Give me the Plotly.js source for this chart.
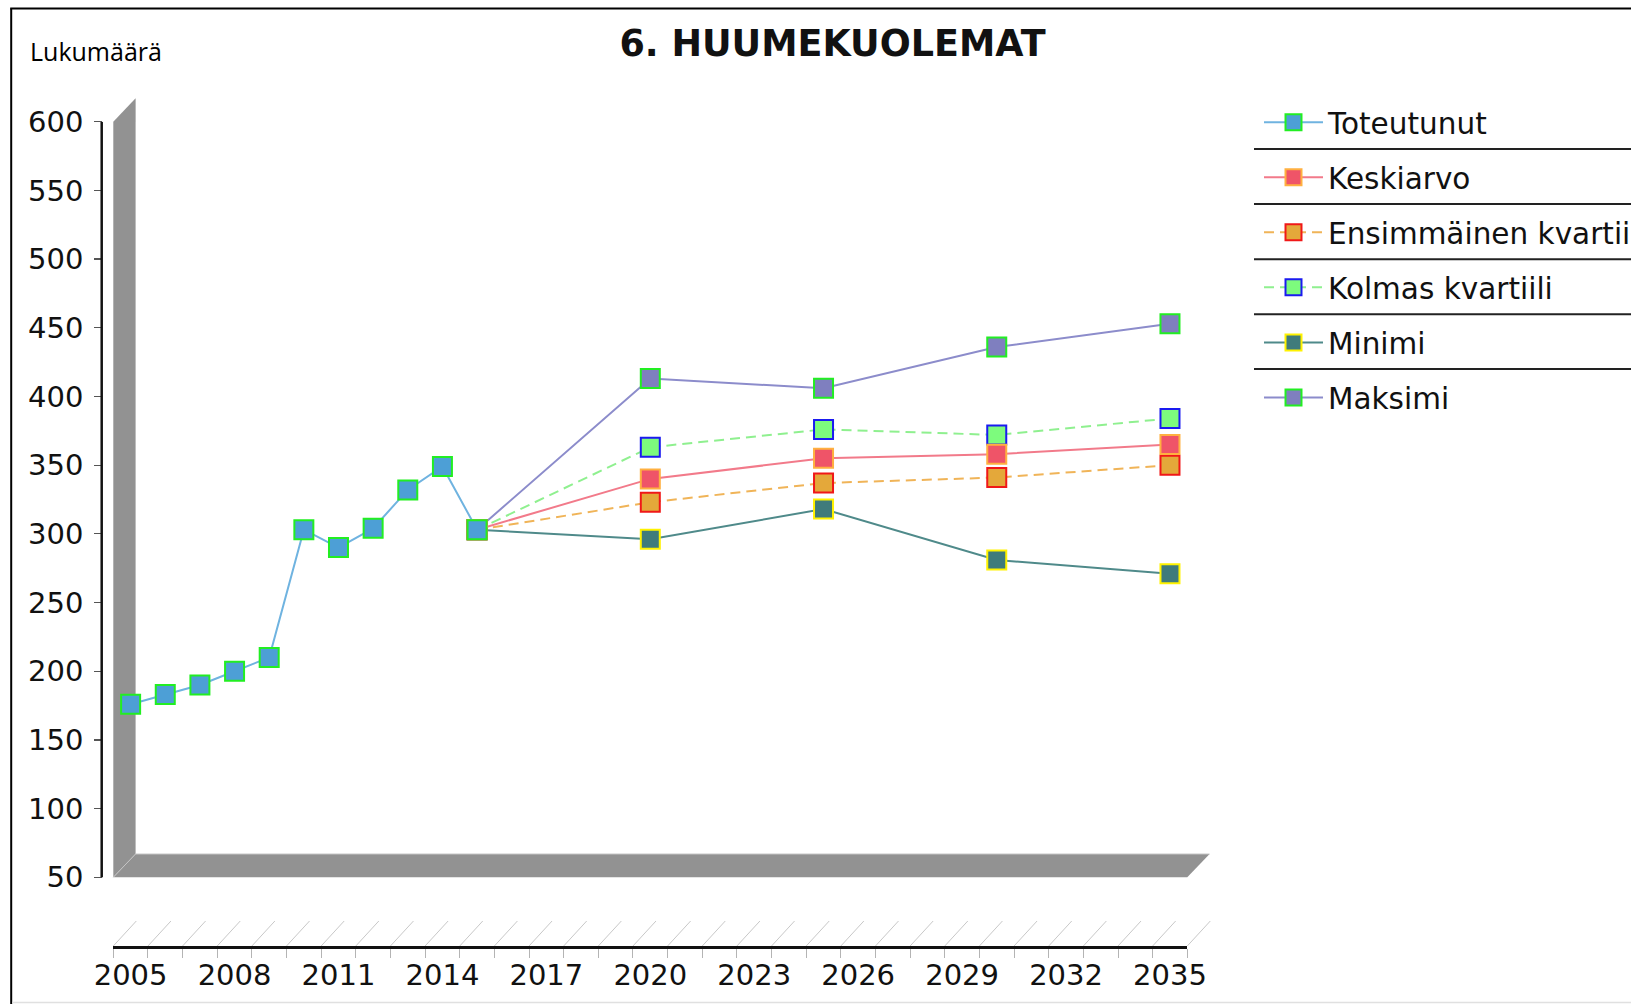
<!DOCTYPE html>
<html>
<head>
<meta charset="utf-8">
<script src="https://cdn.plot.ly/plotly-3.0.1.min.js"></script>
<style>
  html, body { margin: 0; padding: 0; background: #fff; }
  #chart { width: 1631px; height: 1004px; }
</style>
</head>
<body>
<div id="chart"></div>
<script>
// ---------- data ----------
const chartTitle = '6. HUUMEKUOLEMAT';
const yLabel = 'Lukumäärä';
const histYears = [2005, 2006, 2007, 2008, 2009, 2010, 2011, 2012, 2013, 2014, 2015];
const toteutunut = [176, 183, 190, 200, 210, 303, 290, 304, 332, 349, 303];
const projYears = [2015, 2020, 2025, 2030, 2035];
const keskiarvo = [303, 340, 355, 358, 365];
const ensimmainenKvartiili = [303, 323, 337, 341, 350];
const kolmasKvartiili = [303, 363, 376, 372, 384];
const minimi = [303, 296, 318, 281, 271];
const maksimi = [303, 413, 406, 436, 453];
const seriesNames = ['Toteutunut', 'Keskiarvo', 'Ensimmäinen kvartiili', 'Kolmas kvartiili', 'Minimi', 'Maksimi'];
const xTickVals = [2005, 2008, 2011, 2014, 2017, 2020, 2023, 2026, 2029, 2032, 2035];
const yTickVals = [50, 100, 150, 200, 250, 300, 350, 400, 450, 500, 550, 600];
const allYears = [];
for (let y = 2005; y <= 2035; y++) allYears.push(y);

// ---------- geometry (pixels of the 1631x1004 page) ----------
const W = 1631, H = 1004;
const px = v => v / W;
const py = v => 1 - v / H;
const plotL = 113.3, plotR = 1187.3, plotB = 946, plotT = 121.7; // y range 0..600
const xMin = 2004.5, xMax = 2035.5, yMin = 0, yMax = 600;
const xPx = yr => plotL + (yr - xMin) / (xMax - xMin) * (plotR - plotL);
const yPx = v => plotB - (v - yMin) / (yMax - yMin) * (plotB - plotT);
const dx3 = 22.3, dy3 = 23.4; // 3D depth offset

const font = 'DejaVu Sans, Verdana, sans-serif';

function trace(name, x, y, lineColor, fill, border, dash, rank) {
  return {
    type: 'scatter', mode: 'lines+markers', name: name, x: x, y: y,
    line: { color: lineColor, width: 2, dash: dash || 'solid' },
    marker: { symbol: 'square', size: 19, color: fill, line: { color: border, width: 2 } },
    legendgroup: name, legendrank: rank, cliponaxis: false
  };
}

const data = [
  trace(seriesNames[5], projYears, maksimi, '#8C8CCB', '#7F7FBF', '#22EE22', null, 6),
  trace(seriesNames[4], projYears, minimi, '#4F8A8A', '#3F7B7B', '#FFF200', null, 5),
  trace(seriesNames[3], projYears, kolmasKvartiili, '#8FF08F', '#7DFB7D', '#1A1AF0', '10px,6px', 4),
  trace(seriesNames[2], projYears, ensimmainenKvartiili, '#F0B458', '#E4A83A', '#F01818', '10px,6px', 3),
  trace(seriesNames[1], projYears, keskiarvo, '#F27A8A', '#EF5468', '#FFB040', null, 2),
  trace(seriesNames[0], histYears, toteutunut, '#6FB3E0', '#4D9FD6', '#22EE22', null, 1)
];

// ---------- decorations ----------
const shapes = [];
const gray = '#929292';
// back wall
shapes.push({ type: 'path', xref: 'paper', yref: 'paper', layer: 'below',
  path: `M${px(plotL)},${py(yPx(600))} L${px(plotL + dx3)},${py(yPx(600) - dy3)} L${px(plotL + dx3)},${py(yPx(50) - dy3)} L${px(plotL)},${py(yPx(50))} Z`,
  fillcolor: gray, line: { width: 0 } });
// floor
shapes.push({ type: 'path', xref: 'paper', yref: 'paper', layer: 'below',
  path: `M${px(plotL)},${py(yPx(50))} L${px(plotL + dx3)},${py(yPx(50) - dy3)} L${px(plotR + dx3)},${py(yPx(50) - dy3)} L${px(plotR)},${py(yPx(50))} Z`,
  fillcolor: gray, line: { width: 0 } });
// light edges of the 3D frame
shapes.push({ type: 'line', xref: 'paper', yref: 'paper', layer: 'below',
  x0: px(plotL), y0: py(yPx(50)), x1: px(plotL + dx3), y1: py(yPx(50) - dy3), line: { color: '#c4c4c4', width: 1 } });
shapes.push({ type: 'line', xref: 'paper', yref: 'paper', layer: 'below',
  x0: px(plotL + dx3), y0: py(yPx(50) - dy3), x1: px(plotR + dx3), y1: py(yPx(50) - dy3), line: { color: '#d0d0d0', width: 1 } });
// hatch lines above the category axis
for (let b = xMin; b <= xMax + 0.001; b += 1) {
  shapes.push({ type: 'line', xref: 'paper', yref: 'paper', layer: 'below',
    x0: px(xPx(b)), y0: py(plotB), x1: px(xPx(b) + 23), y1: py(plotB - 25),
    line: { color: '#c8c8c8', width: 1 } });
}
// y axis line (50..600)
shapes.push({ type: 'line', xref: 'paper', yref: 'y', x0: px(101.7), x1: px(101.7), y0: 50, y1: 600,
  line: { color: '#111', width: 2.5 } });
// legend separators
[149, 204, 259.3, 314.3, 369].forEach(yy => shapes.push({ type: 'line', xref: 'paper', yref: 'paper',
  x0: px(1254), x1: 1.01, y0: py(yy), y1: py(yy), line: { color: '#222', width: 2 } }));
// outer frame
shapes.push({ type: 'line', xref: 'paper', yref: 'paper', x0: px(11.2), x1: px(11.2), y0: py(8.5), y1: -0.01, line: { color: '#000', width: 2 } });
shapes.push({ type: 'line', xref: 'paper', yref: 'paper', x0: px(10.2), x1: 1.01, y0: py(8.5), y1: py(8.5), line: { color: '#000', width: 2 } });
shapes.push({ type: 'line', xref: 'paper', yref: 'paper', x0: px(12), x1: 1.01, y0: py(1002.5), y1: py(1002.5), line: { color: '#e0e0e0', width: 1.5 } });

const layout = {
  width: W, height: H,
  margin: { l: 0, r: 0, t: 0, b: 0, autoexpand: false },
  paper_bgcolor: '#fff', plot_bgcolor: 'rgba(0,0,0,0)',
  title: { text: chartTitle, x: px(832.5), xanchor: 'center', xref: 'paper', y: py(43.5), yanchor: 'middle', yref: 'container',
    font: { family: font, size: 36.5, weight: 'bold', color: '#111' } },
  showlegend: true,
  legend: { x: px(1259), xanchor: 'left', y: py(96.5), yanchor: 'top', bgcolor: 'rgba(0,0,0,0)',
    font: { family: font, size: 29.5, color: '#111' }, itemwidth: 59, tracegroupgap: 13.7, traceorder: 'grouped' },
  xaxis: {
    domain: [px(plotL), px(plotR)], range: [xMin, xMax], anchor: 'y',
    tickmode: 'array', tickvals: xTickVals, ticktext: xTickVals.map(String), ticks: '',
    minor: { tickmode: 'array', tickvals: allYears.map(y => y - 0.5).concat([xMax]), ticks: 'outside', ticklen: 9, tickwidth: 1, tickcolor: '#b4b4b4', showgrid: false },
    showline: true, linecolor: '#111', linewidth: 2.5, showgrid: false, zeroline: false,
    tickfont: { family: font, size: 29, color: '#111' }, ticklabelstandoff: 2
  },
  yaxis: {
    domain: [py(plotB), py(plotT)], range: [yMin, yMax], anchor: 'free', position: px(101.7),
    tickmode: 'array', tickvals: yTickVals, ticks: 'outside', ticklen: 7.5, tickwidth: 1.2, tickcolor: '#555',
    showline: false, showgrid: false, zeroline: false,
    tickfont: { family: font, size: 29, color: '#111' }, ticklabelstandoff: 5
  },
  annotations: [{ text: yLabel, xref: 'paper', yref: 'paper', x: px(27.5), y: py(51), xanchor: 'left', yanchor: 'middle',
    showarrow: false, font: { family: 'Open Sans, sans-serif', size: 25, color: '#000' } }],
  shapes: shapes
};

Plotly.newPlot('chart', data, layout, { displayModeBar: false, staticPlot: true });
</script>
</body>
</html>
